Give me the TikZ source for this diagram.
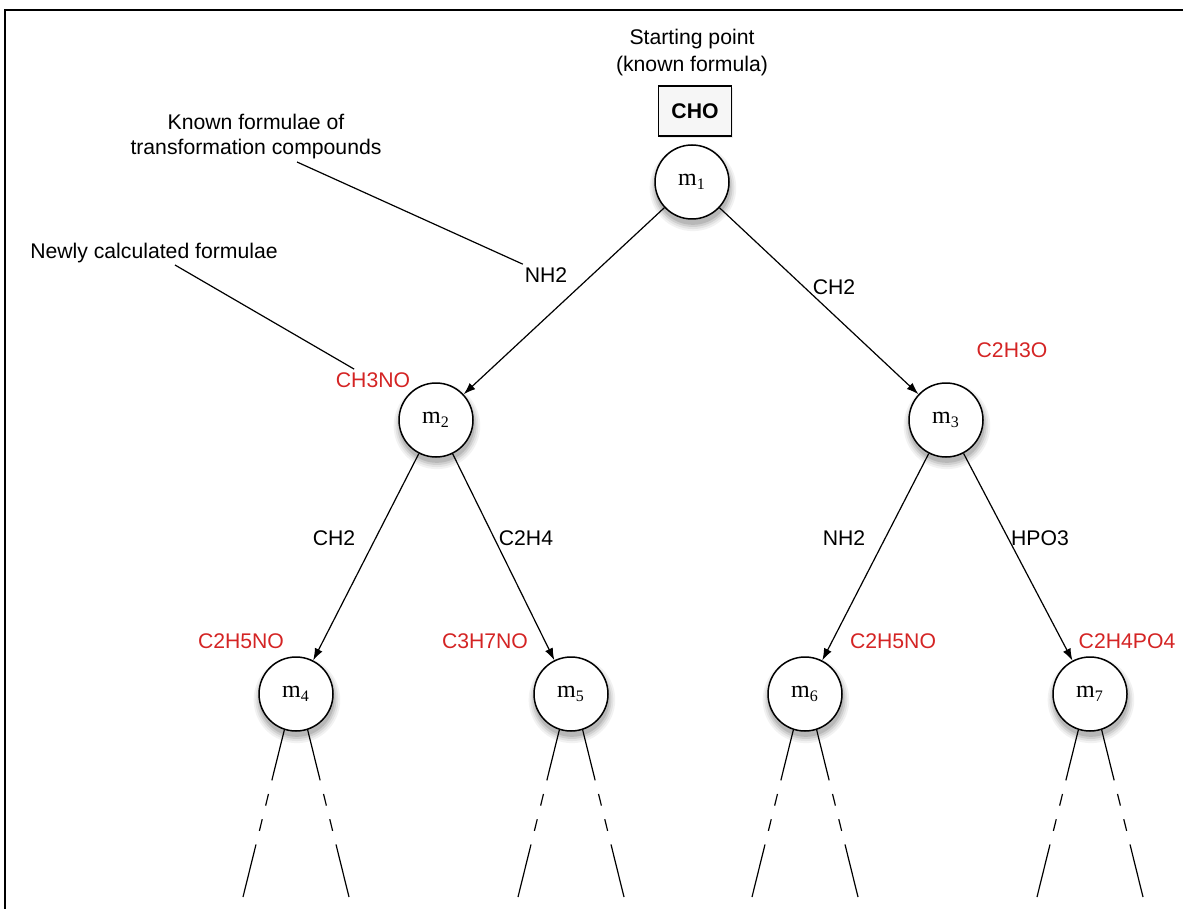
\documentclass[tikz,border=0pt]{standalone}
\usepackage{fontspec}
\setmainfont{Liberation Sans}
\newfontfamily\massfont{Liberation Serif}
\usetikzlibrary{arrows.meta,shadows}
\definecolor{formred}{RGB}{212,36,36}
\definecolor{boxfill}{RGB}{246,246,246}

\begin{document}
\begin{tikzpicture}[x=0.5pt,y=-0.5pt,
  every node/.style={font=\fontsize{10.6}{12.5}\selectfont, inner sep=1.5pt},
  softshadow/.style={
    general shadow={fill=black!5, shadow xshift=0.4pt, shadow yshift=-2.5pt, shadow scale=1.17},
    general shadow={fill=black!11, shadow xshift=0.4pt, shadow yshift=-2.5pt, shadow scale=1.12},
    general shadow={fill=black!19, shadow xshift=0.4pt, shadow yshift=-2.5pt, shadow scale=1.07},
    general shadow={fill=black!28, shadow xshift=0.4pt, shadow yshift=-2.5pt, shadow scale=1.02}},
  mass/.style={circle, draw, line width=0.75pt, fill=white, minimum size=37pt, inner sep=0pt,
    softshadow, font=\massfont\fontsize{12}{14}\selectfont},
  formula/.style={text=formred},
  link/.style={line width=0.6pt, -{Latex[length=6pt,width=4.2pt]}},
  branch/.style={line width=0.6pt, dash pattern=on 26pt off 7pt on 6pt off 7pt on 6pt off 7pt on 40pt},
  leader/.style={line width=0.6pt},
]
\useasboundingbox (0,0) rectangle (1183,909);

% frame
\draw[line width=1pt] (5,909) -- (5,10) -- (1183,10);

% start formula
\node[align=center, font=\fontsize{10.6}{13.5}\selectfont] (start) at (692,53) {Starting point\\(known formula)};
\node[draw, fill=boxfill, line width=0.7pt, minimum width=36.5pt, minimum height=25pt,
  general shadow={fill=black!8, shadow xshift=0.6pt, shadow yshift=-1.2pt},
  font=\bfseries\fontsize{10.6}{12.5}\selectfont] (cho) at (695,111) {CHO};

% mass nodes
\node[mass] (m1) at (692,182) {m\textsubscript{1}};
\node[mass] (m2) at (436,420) {m\textsubscript{2}};
\node[mass] (m3) at (946,420) {m\textsubscript{3}};
\node[mass] (m4) at (296,694) {m\textsubscript{4}};
\node[mass] (m5) at (571,694) {m\textsubscript{5}};
\node[mass] (m6) at (805,694) {m\textsubscript{6}};
\node[mass] (m7) at (1090,694) {m\textsubscript{7}};

% transformations
\draw[link] (m1) -- (m2);
\draw[link] (m1) -- (m3);
\draw[link] (m2) -- (m4);
\draw[link] (m2) -- (m5);
\draw[link] (m3) -- (m6);
\draw[link] (m3) -- (m7);

% transformation compounds
\node (t12) at (546,275) {NH2};
\node (t13) at (834,287) {CH2};
\node (t24) at (334,538) {CH2};
\node (t25) at (526,538) {C2H4};
\node (t36) at (844,538) {NH2};
\node (t37) at (1040,538) {HPO3};

% calculated formulae
\node[formula] (f2) at (373,380) {CH3NO};
\node[formula] (f3) at (1012,350) {C2H3O};
\node[formula] (f4) at (241,641) {C2H5NO};
\node[formula] (f5) at (485,641) {C3H7NO};
\node[formula] (f6) at (893,641) {C2H5NO};
\node[formula] (f7) at (1127,641) {C2H4PO4};

% annotations
\node[align=center] (known) at (256,137) {Known formulae of\\transformation compounds};
\node (newly) at (154,253) {Newly calculated formulae};
\coordinate (knownfoot) at (297,162);
\coordinate (newlyfoot) at (175,265);
\draw[leader] (knownfoot) -- (t12.155);
\draw[leader] (newlyfoot) -- (f2.150);

% further branches
\foreach \m/\x in {m4/296, m5/571, m6/805, m7/1090} {
  \coordinate (\m l) at (\x-53,897);
  \coordinate (\m r) at (\x+53,897);
  \draw[branch] (\m.-108) -- (\m l);
  \draw[branch] (\m.-72) -- (\m r);
}
\end{tikzpicture}
\end{document}
